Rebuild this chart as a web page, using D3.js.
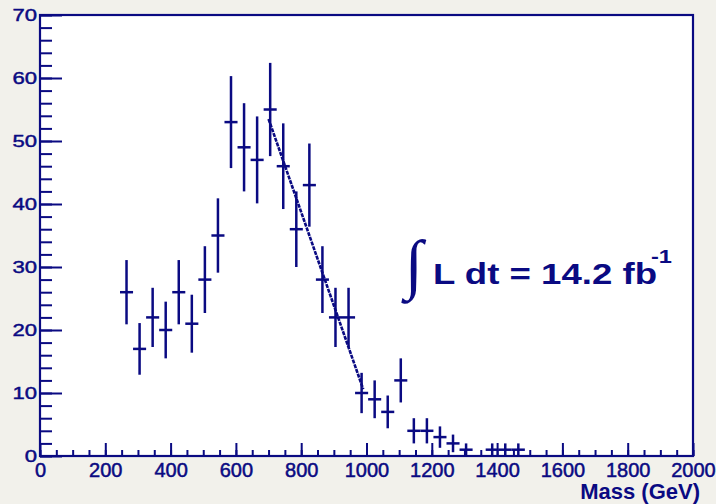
<!DOCTYPE html>
<html>
<head>
<meta charset="utf-8">
<script src="https://cdn.jsdelivr.net/npm/d3@7"></script>
<style>
  html, body { margin: 0; padding: 0; background: #f2f1eb; }
  svg { display: block; }
</style>
</head>
<body>
<svg id="chart" width="716" height="504"></svg>
<script>
// Invariant-mass histogram: bin centres (GeV), event counts and their errors
const massBins = [265, 305, 345, 385, 425, 465, 505, 545, 585, 625, 665, 705, 745, 785, 825,
                  865, 905, 945, 985, 1025, 1065, 1105, 1145, 1185, 1225, 1265, 1305, 1385, 1425, 1465];
const counts   = [26, 17, 22, 20, 26, 21, 28, 35, 53, 49, 47, 55, 46, 36, 43,
                  28, 22, 22, 10, 9, 7, 12, 4, 4, 3, 2, 1, 1, 1, 1];
const errors   = [5.1, 4.1, 4.7, 4.5, 5.1, 4.6, 5.3, 5.9, 7.3, 7.0, 6.9, 7.4, 6.8, 6.0, 6.6,
                  5.3, 4.7, 4.7, 3.2, 3.0, 2.6, 3.5, 2.0, 2.0, 1.7, 1.4, 1.0, 1.0, 1.0, 1.0];
const binWidth = 40;

// Straight-line fit over the falling edge
const fitMass   = [700, 990];
const fitCounts = [53.5, 10.6];

// Axis ticks
const xMajorTicks = [0, 200, 400, 600, 800, 1000, 1200, 1400, 1600, 1800, 2000];
const xMinorTicks = d3.range(0, 2001, 50);
const yMajorTicks = [0, 10, 20, 30, 40, 50, 60, 70];
const yMinorTicks = d3.range(0, 71, 2);

const ink = "#0a0a82";
const svg = d3.select("#chart");
const frame = { left: 40, right: 693, top: 15, bottom: 456 };

const x = d3.scaleLinear().domain([0, 2000]).range([frame.left, frame.right]);
const y = d3.scaleLinear().domain([0, 70]).range([frame.bottom, frame.top]);

// plot area
svg.append("rect")
  .attr("x", frame.left).attr("y", frame.top)
  .attr("width", frame.right - frame.left).attr("height", frame.bottom - frame.top)
  .attr("fill", "#ffffff");

// minor ticks
svg.append("g")
  .attr("transform", `translate(0,${frame.bottom})`)
  .call(d3.axisBottom(x).tickValues(xMinorTicks).tickSize(-6).tickFormat(""))
  .call(g => g.select(".domain").remove())
  .call(g => g.selectAll("line").attr("stroke", ink).attr("stroke-width", 2));
svg.append("g")
  .attr("transform", `translate(${frame.left},0)`)
  .call(d3.axisLeft(y).tickValues(yMinorTicks).tickSize(-12).tickFormat(""))
  .call(g => g.select(".domain").remove())
  .call(g => g.selectAll("line").attr("stroke", ink).attr("stroke-width", 2));

// major ticks with labels
svg.append("g")
  .attr("transform", `translate(0,${frame.bottom})`)
  .call(d3.axisBottom(x).tickValues(xMajorTicks).tickSize(-13).tickPadding(7).tickFormat(d3.format("d")))
  .call(g => g.select(".domain").remove())
  .call(g => g.selectAll("line").attr("stroke", ink).attr("stroke-width", 2))
  .call(g => g.selectAll("text")
    .attr("fill", ink).attr("stroke", ink).attr("stroke-width", 0.5)
    .attr("font-family", "Liberation Sans, Arial, sans-serif")
    .attr("font-size", 20));

svg.append("g")
  .attr("transform", `translate(${frame.left},0)`)
  .call(d3.axisLeft(y).tickValues(yMajorTicks).tickSize(-22).tickFormat(d3.format("d")))
  .call(g => g.select(".domain").remove())
  .call(g => g.selectAll("line").attr("stroke", ink).attr("stroke-width", 2))
  .call(g => g.selectAll("text")
    .attr("x", 0)
    .attr("transform", "translate(-3,0) scale(1.3,1)")
    .attr("fill", ink).attr("stroke", ink).attr("stroke-width", 0.45)
    .attr("font-family", "Liberation Sans, Arial, sans-serif")
    .attr("font-size", 17));

// frame
svg.append("rect")
  .attr("x", frame.left).attr("y", frame.top)
  .attr("width", frame.right - frame.left).attr("height", frame.bottom - frame.top)
  .attr("fill", "none").attr("stroke", ink).attr("stroke-width", 2.2);

// histogram points with error bars
const pts = massBins.map((m, i) => ({ m, c: counts[i], e: errors[i] }));
const marks = svg.append("g").attr("stroke", ink).attr("stroke-width", 2.5).attr("fill", "none");
marks.selectAll("line.v").data(pts).join("line").attr("class", "v")
  .attr("x1", d => x(d.m)).attr("x2", d => x(d.m))
  .attr("y1", d => y(Math.max(0, d.c - d.e))).attr("y2", d => y(d.c + d.e));
marks.selectAll("line.h").data(pts).join("line").attr("class", "h")
  .attr("x1", d => x(d.m - binWidth / 2)).attr("x2", d => x(d.m + binWidth / 2))
  .attr("y1", d => y(d.c)).attr("y2", d => y(d.c));

// fit line
svg.append("path")
  .datum(fitMass.map((m, i) => [m, fitCounts[i]]))
  .attr("d", d3.line().x(d => x(d[0])).y(d => y(d[1])))
  .attr("fill", "none").attr("stroke", ink).attr("stroke-width", 2.6)
  .attr("stroke-dasharray", "4,1");

// axis title
svg.append("text")
  .attr("x", 700).attr("y", 499)
  .attr("text-anchor", "end")
  .attr("fill", ink)
  .attr("font-family", "Liberation Sans, Arial, sans-serif")
  .attr("font-weight", "bold").attr("font-size", 22)
  .text("Mass (GeV)");

// integrated luminosity
svg.append("text")
  .attr("x", 405).attr("y", 286)
  .attr("fill", ink)
  .attr("font-family", "Liberation Serif, DejaVu Serif, serif")
  .attr("font-size", 66)
  .text("∫");
svg.append("text")
  .attr("x", 433).attr("y", 284)
  .attr("fill", ink)
  .attr("font-family", "Liberation Sans, Arial, sans-serif")
  .attr("font-weight", "bold").attr("font-size", 30)
  .attr("textLength", 224).attr("lengthAdjust", "spacingAndGlyphs")
  .text("L dt = 14.2 fb");
svg.append("text")
  .attr("x", 651).attr("y", 263)
  .attr("fill", ink)
  .attr("font-family", "Liberation Sans, Arial, sans-serif")
  .attr("font-weight", "bold").attr("font-size", 19)
  .attr("textLength", 21).attr("lengthAdjust", "spacingAndGlyphs")
  .text("-1");
</script>
</body>
</html>
